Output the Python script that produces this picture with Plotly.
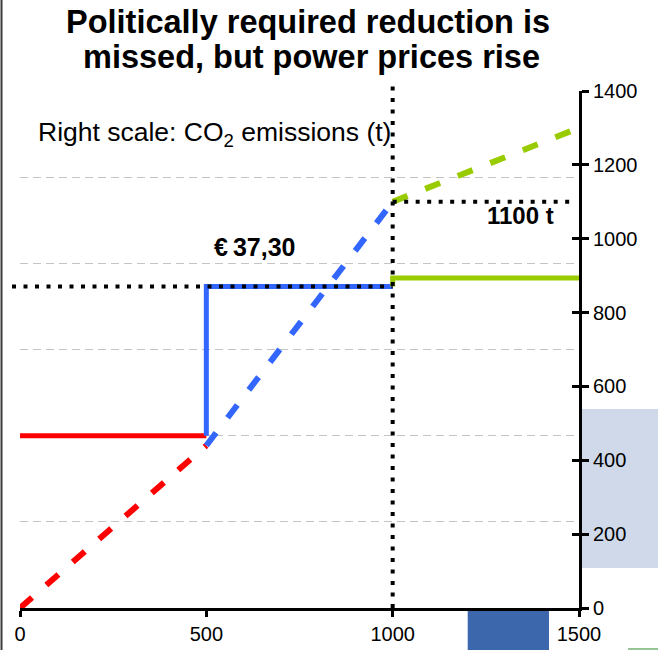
import plotly.graph_objects as go

# Axis ranges
X_RANGE = [0, 1500]
PRICE_RANGE = [0, 60]        # left scale (hidden), €/t
EMISSION_RANGE = [0, 1400]   # right scale, t

# Price curve (left scale)
red_price_x = [0, 500]
red_price_y = [20, 20]
blue_price_x = [500, 500, 1000]
blue_price_y = [20, 37.3, 37.3]
green_price_x = [1000, 1000, 1500]
green_price_y = [37.3, 38.3, 38.3]

# CO2 emissions (right scale)
red_em_x = [0, 500]
red_em_y = [0, 440]
blue_em_x = [500, 1000]
blue_em_y = [440, 1100]
green_em_x = [1000, 1500]
green_em_y = [1100, 1300]

# Reference levels
price_level = 37.3
price_level_x = 1000
emission_cap = 1100
emission_cap_x = [1000, 1490]

x_ticks = [0, 500, 1000, 1500]
y2_ticks = [0, 200, 400, 600, 800, 1000, 1200, 1400]

RED = "#FF0000"
BLUE = "#3366FF"
GREEN = "#99CC00"
FONT = "Liberation Sans, Arial, sans-serif"

fig = go.Figure()

dash_style = "16px,19px"
for xs, ys, c in [(red_em_x, red_em_y, RED), (blue_em_x, blue_em_y, BLUE), (green_em_x, green_em_y, GREEN)]:
    fig.add_trace(go.Scatter(x=xs, y=ys, mode="lines", yaxis="y2",
                             line=dict(color=c, width=6, dash=dash_style),
                             hoverinfo="skip", showlegend=False))

for xs, ys, c in [(red_price_x, red_price_y, RED), (blue_price_x, blue_price_y, BLUE), (green_price_x, green_price_y, GREEN)]:
    fig.add_trace(go.Scatter(x=xs, y=ys, mode="lines", yaxis="y",
                             line=dict(color=c, width=5),
                             hoverinfo="skip", showlegend=False))

# empty trace so the inside-tick axis is drawn
fig.add_trace(go.Scatter(x=[None], y=[None], yaxis="y3", showlegend=False, hoverinfo="skip"))

dot = dict(color="black", width=4, dash="4px,7.5px")
x_span = X_RANGE[1] - X_RANGE[0]
shapes = [
    # price level (extends slightly left of the plot)
    dict(type="line", xref="paper", yref="y", x0=-0.0143,
         x1=(price_level_x - X_RANGE[0]) / x_span, y0=price_level, y1=price_level,
         line=dot, layer="above"),
    # vertical marker at 1000
    dict(type="line", xref="x", yref="paper", x0=price_level_x, x1=price_level_x,
         y0=0, y1=1.021, line=dot, layer="above"),
    # emission cap
    dict(type="line", xref="x", yref="y2", x0=emission_cap_x[0], x1=emission_cap_x[1],
         y0=emission_cap, y1=emission_cap, line=dot, layer="above"),
    # frame remnants
    dict(type="line", xref="paper", yref="paper", x0=-0.0331, x1=-0.0331, y0=-0.1, y1=1.2,
         line=dict(color="#3a3a3a", width=2), layer="below"),
    dict(type="rect", xref="paper", yref="paper", x0=1.0018, x1=1.15, y0=0.0774, y1=0.3849,
         fillcolor="#CFD9EA", line=dict(width=0), layer="below"),
    dict(type="rect", xref="paper", yref="paper", x0=0.8009, x1=0.9463, y0=-0.0052, y1=-0.09,
         fillcolor="#3D67AD", line=dict(width=0), layer="below"),
    dict(type="line", xref="paper", yref="paper", x0=1.0877, x1=1.15, y0=-0.0793, y1=-0.0793,
         line=dict(color="#2E8B2E", width=1), layer="below"),
]

annotations = [
    dict(text="<b>Politically required reduction is</b>", xref="paper", yref="paper",
         x=0.516, y=1.1335, xanchor="center", yanchor="middle", showarrow=False,
         font=dict(family=FONT, size=32.5, color="black")),
    dict(text="<b>missed, but power prices rise</b>", xref="paper", yref="paper",
         x=0.521, y=1.0658, xanchor="center", yanchor="middle", showarrow=False,
         font=dict(family=FONT, size=32.5, color="black")),
    dict(text="Right scale: CO<sub>2</sub> emissions (t)", xref="x", yref="y",
         x=42, y=55.0, xanchor="left", yanchor="middle", showarrow=False,
         font=dict(family=FONT, size=26.5, color="black")),
    dict(text="<b>€\u200937,30</b>", xref="x", yref="y", x=515, y=41.9,
         xanchor="left", yanchor="middle", showarrow=False,
         font=dict(family=FONT, size=25, color="black")),
    dict(text="<b>1100 t</b>", xref="x", yref="y2", x=1438, y=1064,
         xanchor="right", yanchor="middle", showarrow=False,
         font=dict(family=FONT, size=24, color="black")),
]

fig.update_layout(
    width=658, height=650,
    margin=dict(l=20, r=79, t=91, b=42, autoexpand=False),
    paper_bgcolor="white", plot_bgcolor="white",
    font=dict(family=FONT, color="black"),
    showlegend=False,
    shapes=shapes, annotations=annotations,
    xaxis=dict(range=X_RANGE, tickvals=x_ticks, showgrid=False, zeroline=False,
               automargin=False,
               showline=True, linecolor="black", linewidth=3,
               ticks="outside", ticklen=6, tickwidth=3, tickcolor="black",
               tickfont=dict(family=FONT, size=20, color="black")),
    yaxis=dict(range=PRICE_RANGE, dtick=10, showgrid=True, gridcolor="#C4C4C4",
               gridwidth=1, griddash="8px,5px", zeroline=False, showline=False,
               automargin=False, showticklabels=False, ticks=""),
    yaxis2=dict(range=EMISSION_RANGE, tickvals=y2_ticks, overlaying="y", side="right",
                anchor="x", showgrid=False, zeroline=False, automargin=False,
                showline=True, linecolor="black", linewidth=3,
                ticks="outside", ticklen=7, tickwidth=3, tickcolor="black",
                tickfont=dict(family=FONT, size=20, color="black")),
    yaxis3=dict(range=EMISSION_RANGE, tickvals=y2_ticks, overlaying="y", side="right",
                anchor="x", showgrid=False, zeroline=False, showline=False,
                automargin=False,
                ticks="inside", ticklen=7, tickwidth=3, tickcolor="black",
                showticklabels=False),
)

fig.write_html("out.html")
